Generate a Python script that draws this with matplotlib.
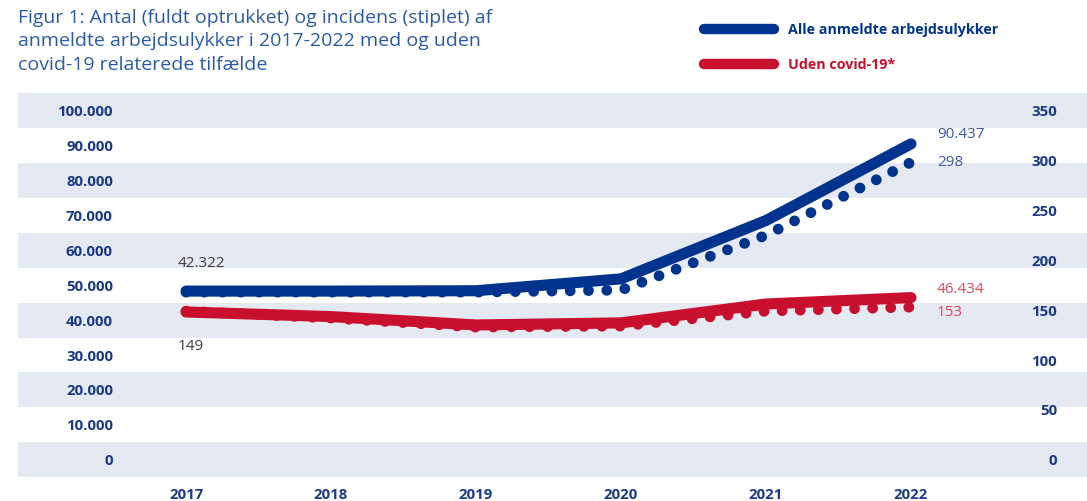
import numpy as np
import matplotlib
matplotlib.use('Agg')
import matplotlib.pyplot as plt
from matplotlib.lines import Line2D

plt.rcParams['font.family'] = ['Open Sans', 'DejaVu Sans']

years = [2017, 2018, 2019, 2020, 2021, 2022]
# antal (venstre akse) og incidens (højre akse)
alle_antal = [48300, 48300, 48400, 51800, 68500, 90437]
alle_incidens = [168, 168, 168, 170, 225, 298]
uden_antal = [42322, 41000, 38600, 39200, 44600, 46434]
uden_incidens = [149, 142, 133, 134, 149, 153]

left_ticks = list(range(0, 100001, 10000))
right_ticks = list(range(0, 351, 50))
band_ticks = left_ticks[::2]

NAVY = '#00338d'
RED = '#c8102e'
TICK = '#1b3a87'
BAND = '#e4e9f2'
DPI = 100

fig = plt.figure(figsize=(10.87, 5.01), dpi=DPI)
ax = fig.add_axes([18/1087, 23.7/501, 1069/1087, 384.3/501])
ax2 = ax.twinx()

ax.set_xlim(2015.841, 2023.214)
ax.set_ylim(-5000, 105000)
ax2.set_ylim(-17.5, 367.5)

for v in band_ticks:
    ax.axhspan(v - 5000, v + 5000, color=BAND, lw=0, zorder=0)


def dotted(a, x, y, color, lw=7.8, step_px=18.3):
    # tilpas prikafstanden så der sidder en prik i begge ender
    pts = a.transData.transform(np.column_stack([x, y]))
    length = np.hypot(*np.diff(pts, axis=0).T).sum()
    n = max(1, round(length / step_px))
    period = length / n * 0.997 * 72 / DPI / lw
    a.plot(x, y, color=color, lw=lw, ls=(0, (0.001, period - 0.001)),
           dash_capstyle='round', zorder=2)


# stiplet = incidens, fuldt optrukket = antal
dotted(ax2, years, alle_incidens, NAVY)
dotted(ax2, years, uden_incidens, RED)
ax2.plot(years, alle_antal, color=NAVY, lw=8, solid_capstyle='round',
         solid_joinstyle='round', zorder=3, transform=ax.transData)
ax2.plot(years, uden_antal, color=RED, lw=8, solid_capstyle='round',
         solid_joinstyle='round', zorder=3, transform=ax.transData)

for a in (ax, ax2):
    for s in a.spines.values():
        s.set_visible(False)

ax.set_yticks(left_ticks)
ax.set_yticklabels([f'{v:,}'.replace(',', '.') for v in left_ticks])
ax.tick_params(axis='y', length=0, pad=-68.4, labelsize=10.8, labelcolor=TICK)
ax.set_xticks(years)
ax.set_xticklabels([str(y) for y in years])
ax.tick_params(axis='x', length=0, pad=7.5, labelsize=10.8, labelcolor=TICK)
for t in ax.get_yticklabels() + ax.get_xticklabels():
    t.set_fontweight('bold')

ax2.set_yticks(right_ticks)
ax2.set_yticklabels([str(v) for v in right_ticks])
ax2.tick_params(axis='y', length=0, pad=-21.6, labelsize=10.8, labelcolor=TICK)
for t in ax2.get_yticklabels():
    t.set_fontweight('bold')
    t.set_horizontalalignment('right')

# værdier ved start og slut
ax2.annotate(f'{uden_antal[0]:,}'.replace(',', '.'), (years[0], uden_antal[0]),
             xycoords=ax.transData, xytext=(-5.8, 34.6), textcoords='offset points',
             ha='left', va='center', fontsize=11, color='#3d3d3d')
ax2.annotate(str(uden_incidens[0]), (years[0], uden_incidens[0]),
             xytext=(-5.8, -25.2), textcoords='offset points',
             ha='left', va='center', fontsize=11, color='#3d3d3d')
ax2.annotate(f'{alle_antal[-1]:,}'.replace(',', '.'), (years[-1], alle_antal[-1]),
             xycoords=ax.transData, xytext=(18.7, 6.5), textcoords='offset points',
             ha='left', va='center', fontsize=11, color='#3a5aa8')
ax2.annotate(str(alle_incidens[-1]), (years[-1], alle_incidens[-1]),
             xytext=(18.7, 0), textcoords='offset points',
             ha='left', va='center', fontsize=11, color='#3a5aa8')
ax2.annotate(f'{uden_antal[-1]:,}'.replace(',', '.'), (years[-1], uden_antal[-1]),
             xycoords=ax.transData, xytext=(18.7, 5.5), textcoords='offset points',
             ha='left', va='center', fontsize=11, color='#e0475f')
ax2.annotate(str(uden_incidens[-1]), (years[-1], uden_incidens[-1]),
             xytext=(18.7, -3.6), textcoords='offset points',
             ha='left', va='center', fontsize=11, color='#e0475f')

fig.text(18/1087, 1 - 9/501,
         'Figur 1: Antal (fuldt optrukket) og incidens (stiplet) af\n'
         'anmeldte arbejdsulykker i 2017-2022 med og uden\n'
         'covid-19 relaterede tilfælde',
         ha='left', va='top', fontsize=14, color='#2b5ba8', linespacing=1.38)

handles = [Line2D([], [], color=NAVY, lw=7.5, solid_capstyle='round'),
           Line2D([], [], color=RED, lw=7.5, solid_capstyle='round')]
leg = fig.legend(handles, ['Alle anmeldte arbejdsulykker', 'Uden covid-19*'],
                 loc='upper left', bbox_to_anchor=(704/1087, 1 - 23/501),
                 frameon=False, fontsize=10.3, handlelength=4.9,
                 handletextpad=1.0, labelspacing=1.45, borderaxespad=0,
                 borderpad=0, labelcolor='linecolor')
for t in leg.get_texts():
    t.set_fontweight('bold')

fig.savefig('out.png', dpi=DPI, facecolor='white')
